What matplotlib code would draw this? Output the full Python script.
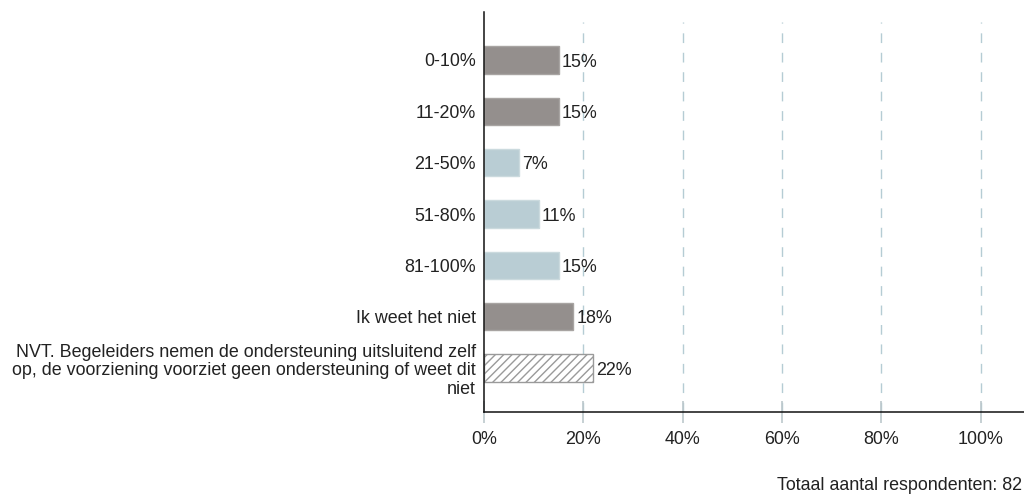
import matplotlib
matplotlib.use("Agg")
import matplotlib.pyplot as plt
from matplotlib.ticker import FuncFormatter

plt.rcParams['font.family'] = ['Liberation Sans', 'DejaVu Sans']
plt.rcParams['hatch.color'] = '#9a9a9a'
plt.rcParams['hatch.linewidth'] = 1.0

categories = [
    "0-10%",
    "11-20%",
    "21-50%",
    "51-80%",
    "81-100%",
    "Ik weet het niet",
    "NVT. Begeleiders nemen de ondersteuning uitsluitend zelf\n"
    "op, de voorziening voorziet geen ondersteuning of weet dit\n"
    "niet",
]
values = [15, 15, 7, 11, 15, 18, 22]
styles = ["dark", "dark", "light", "light", "light", "dark", "hatch"]
ticks = [0, 20, 40, 60, 80, 100]
total_respondents = 82

face = {"dark": "#948f8d", "light": "#b9cdd4", "hatch": "white"}
edge = {"dark": "#a8a4a2", "light": "#cbdade", "hatch": "#9a9a9a"}
fs = 12.9

fig = plt.figure(figsize=(10.24, 4.94), dpi=100)
ax = fig.add_axes([484 / 1024, 1 - 412 / 494, 1 - 484 / 1024, 400 / 494])

for i, (v, s) in enumerate(zip(values, styles)):
    ax.barh(i, v, height=0.53, color=face[s], edgecolor=edge[s],
            linewidth=1.0, hatch="////" if s == "hatch" else None, zorder=3)
    ax.text(v + 0.6, i + 0.04, f"{v}%", va="center", ha="left", fontsize=fs,
            color="#222222", zorder=4)

ax.set_ylim(len(values) - 1 + 0.857, -0.935)
ax.set_xlim(0, 108.7)
ax.set_yticks(range(len(categories)))
ax.set_yticklabels(categories, fontsize=fs, color="#222222", linespacing=1.12)
ax.tick_params(axis="y", length=0, pad=6)

ax.set_xticks(ticks)
ax.xaxis.set_major_formatter(FuncFormatter(lambda x, _: f"{x:.0f}%"))
ax.tick_params(axis="x", direction="inout", length=16, width=1.2,
               color="#bcc8cc", labelsize=fs, labelcolor="#222222", pad=6)

for t in ticks[1:]:
    ax.axvline(t, ymax=0.975, color="#b5ccd4", linestyle=(0, (7, 7)),
               linewidth=1.0, zorder=1)

for side in ["top", "right"]:
    ax.spines[side].set_visible(False)
for side in ["left", "bottom"]:
    ax.spines[side].set_color("#111111")
    ax.spines[side].set_linewidth(1.1)
    ax.spines[side].set_zorder(5)

fig.text(0.998, 1 - 485 / 494, f"Totaal aantal respondenten: {total_respondents}",
         ha="right", va="center", fontsize=fs, color="#222222")

fig.savefig("out.png", dpi=100)
